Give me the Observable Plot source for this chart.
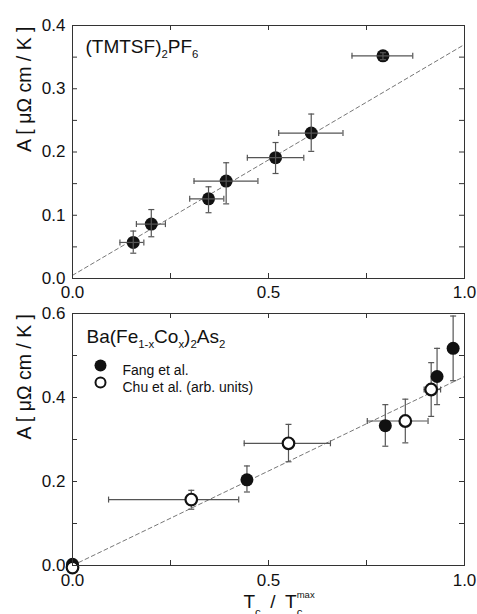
<!DOCTYPE html>
<html><head><meta charset="utf-8">
<script src="https://cdn.jsdelivr.net/npm/d3@7"></script>
<script src="https://cdn.jsdelivr.net/npm/@observablehq/plot@0.6"></script>
<style>
body{margin:0;background:#fff;}
#chart{position:relative;width:477px;height:614px;overflow:hidden;background:#fff;font-family:"Liberation Sans",Arial,sans-serif;}
#chart svg{display:block;position:absolute;left:0;}
</style></head><body><div id="chart"></div>
<script>
// ---------- data: top panel (TMTSF)2PF6 ----------
const tmX   = [0.155, 0.201, 0.347, 0.392, 0.518, 0.609, 0.792];
const tmA   = [0.057, 0.086, 0.126, 0.154, 0.191, 0.230, 0.352];
const tmXlo = [0.121, 0.163, 0.299, 0.310, 0.446, 0.526, 0.713];
const tmXhi = [0.182, 0.237, 0.386, 0.473, 0.590, 0.690, 0.868];
const tmAlo = [0.040, 0.066, 0.104, 0.118, 0.166, 0.201, 0.346];
const tmAhi = [0.075, 0.109, 0.145, 0.183, 0.215, 0.260, 0.357];
const tmFitX = [0, 1];
const tmFitA = [0.005, 0.37];

// ---------- data: bottom panel Ba(Fe1-xCox)2As2 ----------
const fangX   = [0, 0.445, 0.798, 0.930, 0.971];
const fangA   = [0.003, 0.204, 0.333, 0.450, 0.517];
const fangAlo = [null, 0.175, 0.284, 0.383, 0.440];
const fangAhi = [null, 0.237, 0.383, 0.517, 0.594];

const chuX   = [0, 0.303, 0.551, 0.849, 0.915];
const chuA   = [-0.005, 0.157, 0.291, 0.344, 0.419];
const chuXlo = [null, 0.092, 0.438, 0.752, 0.897];
const chuXhi = [null, 0.424, 0.658, 0.907, 0.939];
const chuAlo = [null, 0.134, 0.247, 0.292, 0.355];
const chuAhi = [null, 0.179, 0.336, 0.396, 0.483];
const baFitX = [0, 1];
const baFitA = [0, 0.45];

// ---------- ticks & labels ----------
const xTicks = [0, 0.25, 0.5, 0.75, 1];
const xTickLabels = [0, 0.5, 1];
const topYTicks = [0, 0.05, 0.1, 0.15, 0.2, 0.25, 0.3, 0.35, 0.4];
const topYTickLabels = [0, 0.1, 0.2, 0.3, 0.4];
const botYTicks = [0, 0.1, 0.2, 0.3, 0.4, 0.5, 0.6];
const botYTickLabels = [0, 0.2, 0.4, 0.6];
const yLabel = "A [ μΩ cm / K ]";
const xLabel = "T_{c}\u2002/\u2002T_{c}^{max}";
const topTitle = "(TMTSF)_{2}PF_{6}";
const botTitle = "Ba(Fe_{1-x}Co_{x})_{2}As_{2}";
const legendLabels = ["Fang et al.", "Chu et al. (arb. units)"];

// ---------- helpers ----------
const FONT = '"Liberation Sans", Arial, sans-serif';
const W = 477, ML = 72, MR = 13;
const FW = W - ML - MR;
const ink = "#111", barC = "#555", frameC = "#333";

const capH = {draw(ctx){ ctx.moveTo(-3, 0); ctx.lineTo(3, 0); }};
const capV = {draw(ctx){ ctx.moveTo(0, -3); ctx.lineTo(0, 3); }};

function rows(xs, ys, extra = {}) {
  return xs.map((x, i) => {
    const r = {x, a: ys[i]};
    for (const k in extra) r[k] = extra[k][i];
    return r;
  });
}

function frameTicks(FH) {
  return [
    Plot.ruleX(xTicks, {x: d => d, insetTop: FH - 5, stroke: frameC}),
    Plot.ruleX(xTicks, {x: d => d, insetBottom: FH - 5, stroke: frameC}),
  ];
}
function yFrameTicks(ticks) {
  return [
    Plot.ruleY(ticks, {y: d => d, insetRight: FW - 5, stroke: frameC}),
    Plot.ruleY(ticks, {y: d => d, insetLeft: FW - 5, stroke: frameC}),
  ];
}
function errMarks(data) {
  const xe = data.filter(d => d.xlo != null);
  const ye = data.filter(d => d.alo != null);
  return [
    Plot.ruleY(xe, {y: "a", x1: "xlo", x2: "xhi", stroke: barC, strokeWidth: 1.2}),
    Plot.dot(xe, {x: "xlo", y: "a", symbol: capV, stroke: barC, fill: "none", strokeWidth: 1.2}),
    Plot.dot(xe, {x: "xhi", y: "a", symbol: capV, stroke: barC, fill: "none", strokeWidth: 1.2}),
    Plot.ruleX(ye, {x: "x", y1: "alo", y2: "ahi", stroke: barC, strokeWidth: 1.2}),
    Plot.dot(ye, {x: "x", y: "alo", symbol: capH, stroke: barC, fill: "none", strokeWidth: 1.2}),
    Plot.dot(ye, {x: "x", y: "ahi", symbol: capH, stroke: barC, fill: "none", strokeWidth: 1.2}),
  ];
}

// rich text: _{sub} ^{sup}
function richify(svg) {
  d3.select(svg).selectAll("text").each(function() {
    const el = this;
    const s = el.textContent;
    if (!/[_^]\{/.test(s)) return;
    const isAxis = s === xLabel;
    const subShift = isAxis ? 0.47 : 0.28;
    const fs = parseFloat(getComputedStyle(el).fontSize) || 16;
    const segs = [];
    const re = /([_^])\{([^}]*)\}|([^_^]+)/g;
    let m;
    while ((m = re.exec(s))) {
      if (m[3]) segs.push({t: m[3], k: 0});
      else segs.push({t: m[2], k: m[1] === "_" ? -1 : 1});
    }
    while (el.firstChild) el.removeChild(el.firstChild);
    let cur = 0, prev = null;
    for (const sg of segs) {
      const target = sg.k === -1 ? subShift * fs : sg.k === 1 ? -0.5 * fs : 0;
      const ts = d3.select(el).append("tspan").text(sg.t);
      ts.attr("dy", target - cur);
      cur = target;
      if (sg.k === -1) ts.attr("font-size", 0.6 * fs);
      if (sg.k === 1) ts.attr("font-size", 0.5 * fs);
      if (sg.k === 1 && prev && prev.k === -1) {
        ts.attr("dx", -prev.node.getComputedTextLength());
      }
      prev = {k: sg.k, node: ts.node()};
    }
  });
}

const chart = document.getElementById("chart");

// ---------- top panel ----------
{
  const H = 310, MT = 25, MB = 32, FH = H - MT - MB;
  const data = rows(tmX, tmA, {xlo: tmXlo, xhi: tmXhi, alo: tmAlo, ahi: tmAhi});
  const fit = rows(tmFitX, tmFitA);
  const svg = Plot.plot({
    width: W, height: H, marginLeft: ML, marginRight: MR, marginTop: MT, marginBottom: MB,
    style: {fontFamily: FONT, fontSize: "17px", color: "#111", background: "none"},
    x: {domain: [0, 1]},
    y: {domain: [0, 0.4]},
    marks: [
      Plot.line(fit, {x: "x", y: "a", stroke: "#777", strokeWidth: 1, strokeDasharray: "4,3"}),
      Plot.dot(data, {x: "x", y: "a", r: 6.5, fill: ink}),
      ...errMarks(data),
      Plot.frame({stroke: frameC}),
      ...frameTicks(FH),
      ...yFrameTicks(topYTicks),
      Plot.axisX({ticks: xTickLabels, tickSize: 0, tickPadding: 7, tickFormat: d3.format(".1f"), label: null}),
      Plot.axisY({ticks: topYTickLabels, tickSize: 0, tickPadding: 7, tickFormat: d3.format(".1f"), label: null}),
      Plot.text([yLabel], {frameAnchor: "left", text: d => d, rotate: -90, dx: -48, fontSize: 19.5, fill: "#111"}),
      Plot.text([topTitle], {frameAnchor: "top-left", text: d => d, dx: 13, dy: 27, textAnchor: "start", lineAnchor: "bottom", fontSize: 19, fill: "#111"}),
    ]
  });
  svg.style.top = "0px";
  chart.appendChild(svg);
  richify(svg);
}

// ---------- bottom panel ----------
{
  const H = 324, MT = 23, MB = 49, FH = H - MT - MB;
  const fang = rows(fangX, fangA, {alo: fangAlo, ahi: fangAhi});
  const chu = rows(chuX, chuA, {xlo: chuXlo, xhi: chuXhi, alo: chuAlo, ahi: chuAhi});
  const fit = rows(baFitX, baFitA);
  const svg = Plot.plot({
    width: W, height: H, marginLeft: ML, marginRight: MR, marginTop: MT, marginBottom: MB,
    style: {fontFamily: FONT, fontSize: "17px", color: "#111", background: "none"},
    x: {domain: [0, 1]},
    y: {domain: [0, 0.6]},
    marks: [
      Plot.line(fit, {x: "x", y: "a", stroke: "#777", strokeWidth: 1, strokeDasharray: "4,3"}),
      ...errMarks(fang),
      ...errMarks(chu),
      Plot.dot(fang, {x: "x", y: "a", r: 6.5, fill: ink}),
      Plot.dot(chu, {x: "x", y: "a", r: 5.8, fill: "#fff", stroke: ink, strokeWidth: 2.2}),
      Plot.frame({stroke: frameC}),
      ...frameTicks(FH),
      ...yFrameTicks(botYTicks),
      Plot.axisX({ticks: xTickLabels, tickSize: 0, tickPadding: 8, tickFormat: d3.format(".1f"), label: null}),
      Plot.axisY({ticks: botYTickLabels, tickSize: 0, tickPadding: 7, tickFormat: d3.format(".1f"), label: null}),
      Plot.text([yLabel], {frameAnchor: "left", text: d => d, rotate: -90, dx: -48, fontSize: 19.5, fill: "#111"}),
      Plot.text([xLabel], {frameAnchor: "bottom-left", text: d => d, dx: 171, dy: 42, textAnchor: "start", lineAnchor: "bottom", fontSize: 19, fill: "#111"}),
      Plot.text([botTitle], {frameAnchor: "top-left", text: d => d, dx: 14, dy: 29, textAnchor: "start", lineAnchor: "bottom", fontSize: 19, fill: "#111"}),
      Plot.dot([legendLabels[0]], {frameAnchor: "top-left", dx: 28, dy: 52, r: 6, fill: ink}),
      Plot.dot([legendLabels[1]], {frameAnchor: "top-left", dx: 28, dy: 69, r: 5, fill: "#fff", stroke: ink, strokeWidth: 2}),
      Plot.text([legendLabels[0]], {frameAnchor: "top-left", text: d => d, dx: 50, dy: 52, textAnchor: "start", fontSize: 14, fill: "#111"}),
      Plot.text([legendLabels[1]], {frameAnchor: "top-left", text: d => d, dx: 50, dy: 69, textAnchor: "start", fontSize: 14, fill: "#111"}),
    ]
  });
  svg.style.top = "290px";
  chart.appendChild(svg);
  richify(svg);
}
</script>
</body></html>
